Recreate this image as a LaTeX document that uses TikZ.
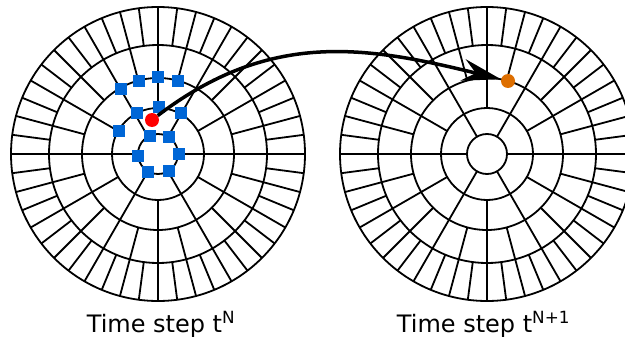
\documentclass[tikz,border=0pt]{standalone}
\usepackage{fontspec}
\setmainfont{DejaVu Sans}
\usetikzlibrary{arrows.meta}

\definecolor{cellblue}{RGB}{0,102,214}
\definecolor{dotorange}{RGB}{221,110,0}

\begin{document}
\begin{tikzpicture}[x=1pt,y=-1pt]
  \tikzset{
    meshline/.style={line width=1.8pt,black},
    nbr/.style={rectangle,fill=cellblue,minimum size=12pt,inner sep=0pt},
    srcdot/.style={circle,fill=red,minimum size=14pt,inner sep=0pt},
    dstdot/.style={circle,fill=dotorange,minimum size=14pt,inner sep=0pt},
    track/.style={-{Stealth[length=39pt,width=22pt,inset=13pt]},line width=3.5pt},
    lbl/.style={font=\fontsize{24}{28}\selectfont,anchor=base,inner sep=0pt}
  }
  \useasboundingbox (0,0) rectangle (625,340);

  % Two identical polar meshes
  \foreach \cx in {158,487}{
    \begin{scope}[shift={(\cx,154)},meshline]
      \foreach \r in {20,46,76,109,147}
        \draw (0,0) circle[radius=\r pt];
      \foreach \a in {0,60,...,300}
        \draw (\a:20pt) -- (\a:46pt);
      \foreach \a in {0,30,...,330}
        \draw (\a:46pt) -- (\a:76pt);
      \foreach \a in {0,15,...,345}
        \draw (\a:76pt) -- (\a:109pt);
      \foreach \a in {0,7.5,...,352.5}
        \draw (\a:109pt) -- (\a:147pt);
    \end{scope}
  }

  % Neighbour cells of the tracked point
  \foreach \x/\y [count=\i] in {120.7/89, 139/80.7, 158/77.3, 177.7/80.7,
      158.7/106.7, 136.7/113.3, 180.7/113.3, 119/130.7, 150/136,
      169/136.7, 138/155.7, 178.7/154, 148/171.7, 169/170.7}
    \node[nbr] (b\i) at (\x,\y) {};

  \node[srcdot] (src) at (152,120) {};
  \node[dstdot] (dst) at (508,81) {};

  \draw[track] (src) .. controls (270,30) and (366,46) .. (dst);

  % Labels
  \node[lbl] (lblL) at (161,332.7) {Time step t\textsuperscript{N}};
  \node[lbl] (lblR) at (483.5,332.7) {Time step t\textsuperscript{N+1}};
\end{tikzpicture}
\end{document}
